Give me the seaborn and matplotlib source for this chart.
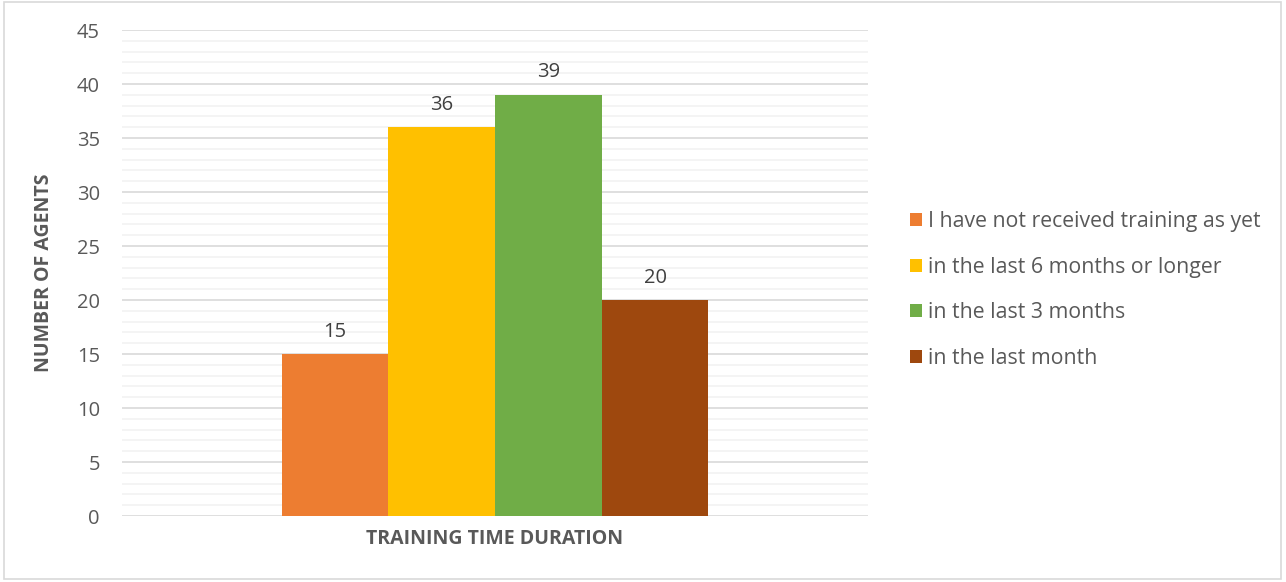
import pandas as pd
import matplotlib
matplotlib.use("Agg")
import matplotlib.pyplot as plt
import seaborn as sns
from matplotlib.patches import Rectangle
from matplotlib.ticker import MultipleLocator

# data
groups = ["I have not received training as yet",
          "in the last 6 months or longer",
          "in the last 3 months",
          "in the last month"]
agents = [15, 36, 39, 20]
colors = ["#ED7D31", "#FFC000", "#70AD47", "#9E480E"]

df = pd.DataFrame({"duration": ["TRAINING TIME DURATION"] * 4,
                   "group": groups,
                   "agents": agents})

sns.set_style("white")
plt.rcParams['font.family'] = ['Open Sans', 'DejaVu Sans']
grey = "#595959"

fig = plt.figure(figsize=(12.86, 5.82), dpi=100)
ax = fig.add_axes([0.0949, 0.1134, 0.5801, 0.835])

sns.barplot(data=df, x="duration", y="agents", hue="group",
            palette=colors, width=0.572, saturation=1, linewidth=0,
            ax=ax, zorder=3)

for c in ax.containers:
    ax.bar_label(c, padding=9, fontsize=14.5, color="#404040")

ax.set_xlim(-0.5, 0.5)
ax.set_ylim(0, 45)
ax.yaxis.set_major_locator(MultipleLocator(5))
ax.yaxis.set_minor_locator(MultipleLocator(1))
ax.grid(axis="y", which="major", color="#d9d9d9", linewidth=1.2, zorder=0)
ax.grid(axis="y", which="minor", color="#f2f2f2", linewidth=1.2, zorder=0)
ax.set_axisbelow(True)
for s in ax.spines.values():
    s.set_visible(False)
ax.tick_params(axis="y", which="both", length=0, labelsize=14.5, labelcolor=grey, pad=16)
ax.tick_params(axis="x", length=0)
ax.set_xticklabels([])
ax.set_xlabel("TRAINING TIME DURATION", fontsize=14, fontweight="bold", color=grey, labelpad=6)
ax.set_ylabel("NUMBER OF AGENTS", fontsize=14, fontweight="bold", color=grey, labelpad=16)

ax.legend(loc="center left", bbox_to_anchor=(1.056, 0.465), frameon=False,
          fontsize=15.3, labelcolor=grey, handlelength=0.55, handleheight=0.55,
          handletextpad=0.3, labelspacing=1.15, borderpad=0, borderaxespad=0)

fig.patches.append(Rectangle((0.003, 0.006), 0.993, 0.99, transform=fig.transFigure,
                             fill=False, edgecolor="#d9d9d9", linewidth=1.2))

plt.savefig("out.png", dpi=100)
